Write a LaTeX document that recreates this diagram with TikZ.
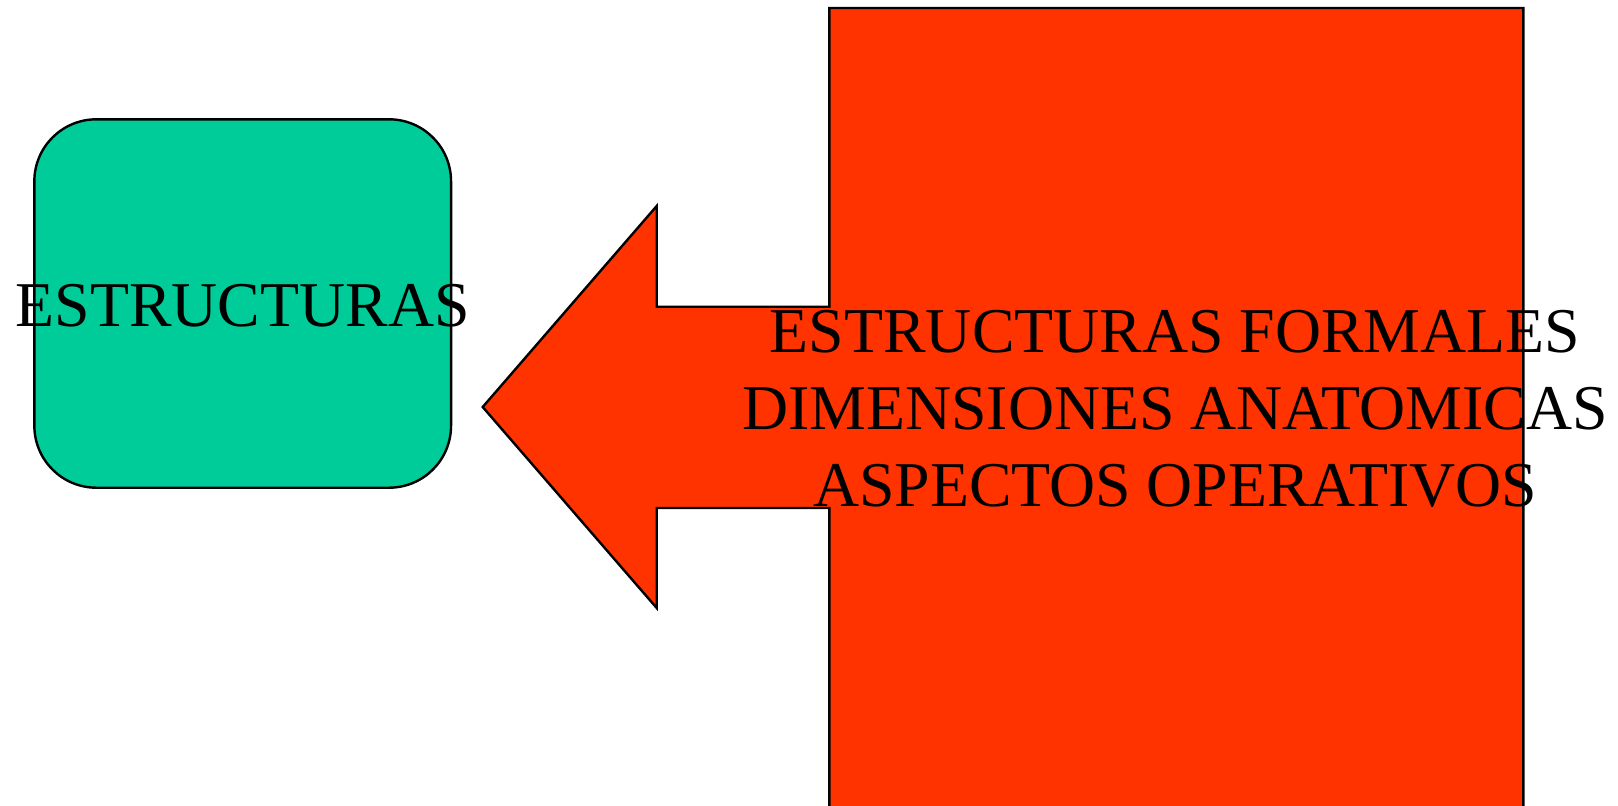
\documentclass[tikz,border=0pt]{standalone}
\usepackage{fontspec}
\setmainfont{Liberation Serif}
\definecolor{boxgreen}{HTML}{00CC99}
\definecolor{arrowred}{HTML}{FF3300}
\begin{document}
\begin{tikzpicture}[x=0.5pt,y=-0.5pt,
  outline/.style={draw=black,line width=1.2pt},
  greenbox/.style={outline,fill=boxgreen,rounded corners=31pt,minimum width=208.35pt,minimum height=184.2pt,inner sep=0pt},
  bigtext/.style={font=\fontsize{31.9pt}{38.5pt}\selectfont,inner sep=0pt,align=center}]
\useasboundingbox (0,0) rectangle (1618,805);
\clip (0,0) rectangle (1618,805);
\fill[white] (0,0) rectangle (1618,805);
\draw[outline,fill=arrowred,line join=miter] (829.3,8) -- (1523.3,8) -- (1523.3,815) -- (829.3,815) -- (829.3,508) -- (656.7,508) -- (656.7,608) -- (482.7,407) -- (656.7,206) -- (656.7,306.7) -- (829.3,306.7) -- cycle;
\node[greenbox] (box) at (242.7,303.5) {};
\node[bigtext] (boxlabel) at (box.center) [yshift=-1pt] {ESTRUCTURAS};
\node[bigtext] (arrowlabel) at (1175,409) {ESTRUCTURAS FORMALES\\DIMENSIONES ANATOMICAS\\ASPECTOS OPERATIVOS};
\end{tikzpicture}
\end{document}
